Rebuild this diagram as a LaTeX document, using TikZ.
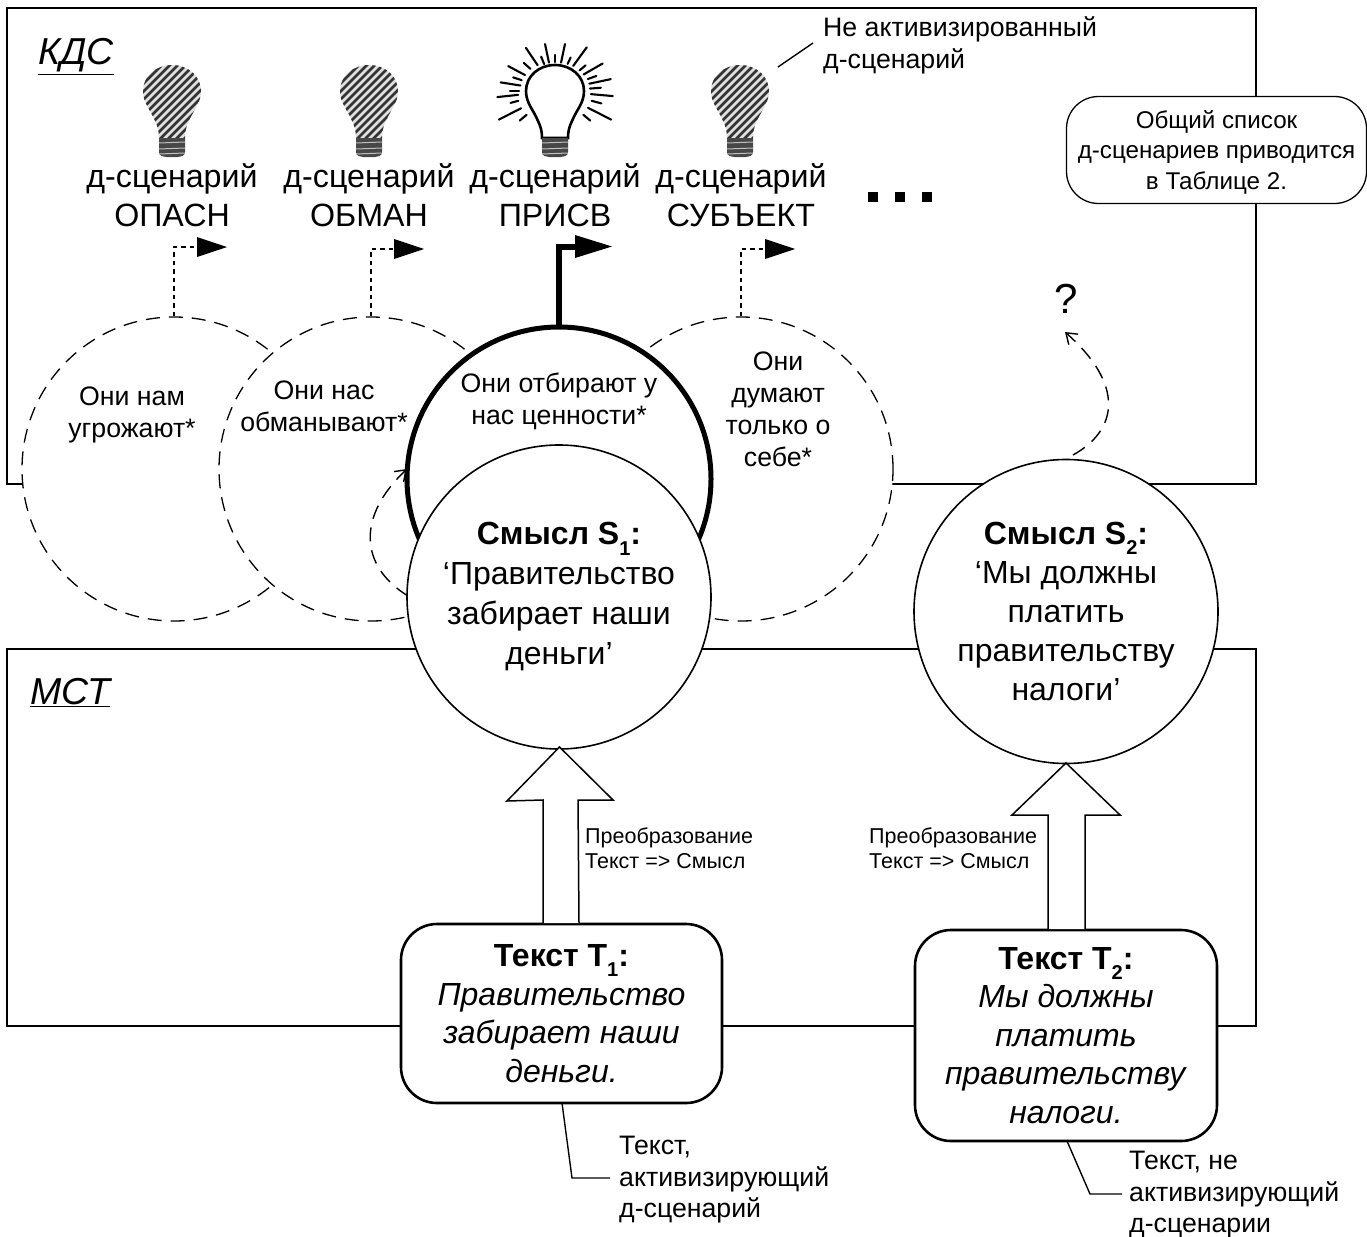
\documentclass[tikz,border=0pt]{standalone}
\usepackage{fontspec}
\setmainfont{Liberation Sans}
\usetikzlibrary{arrows.meta}
\newcommand{\lowsub}[1]{\raisebox{-0.32em}{\fontsize{20}{20}\selectfont #1}}
\tikzset{
  px/.style={x=1pt,y=-1pt},
  frameline/.style={draw=black,line width=1.5pt},
  dashcirc/.style={circle,draw=black,fill=white,line width=1.3pt,dash pattern=on 14pt off 9pt,minimum size=304pt,inner sep=0pt},
  thickcirc/.style={circle,draw=black,fill=white,line width=5pt,minimum size=304pt,inner sep=0pt},
  thincirc/.style={circle,draw=black,fill=white,line width=1.6pt,minimum size=304pt,inner sep=0pt,align=center,font=\fontsize{32}{39}\selectfont},
  textbox/.style={draw=black,fill=white,line width=2.6pt,rounded corners=36pt,inner sep=0pt,align=center,font=\fontsize{32}{38.5}\selectfont},
  note/.style={draw=black,fill=white,line width=1.3pt,rounded corners=32pt,inner sep=0pt},
  notetext/.style={inner sep=0pt,align=center,font=\fontsize{24.2}{30.5}\selectfont},
  lbl/.style={inner sep=0pt,align=center,font=\fontsize{32.2}{39}\selectfont},
  circlbl/.style={inner sep=0pt,align=center,font=\fontsize{26.7}{32}\selectfont},
  small/.style={inner sep=0pt,align=left,font=\fontsize{21.5}{25}\selectfont},
  side/.style={inner sep=0pt,align=left,font=\fontsize{26.7}{31.5}\selectfont},
  sysname/.style={inner sep=0pt,font=\fontsize{37.5}{40}\selectfont\itshape},
  dotarrow/.style={line width=2.9pt,dash pattern=on 4.5pt off 4pt},
  tri/.style={fill=black,draw=none},
  blockarrow/.style={draw=black,fill=white,line width=1.5pt,line join=miter},
  thinline/.style={draw=black,line width=1.4pt},
  dashedcurve/.style={draw=black,line width=1.4pt,dash pattern=on 14pt off 9pt},
  bulbhatch/.style={draw=black!80,line width=2.7pt},
  dotsq/.style={fill=black,draw=none,minimum size=10pt,inner sep=0pt},
  ray/.style={draw=black,line width=2.1pt,line cap=round}
}
\newcommand{\bulbpath}{(0,0) .. controls (16,0) and (29,11) .. (29,26)
  .. controls (29,38) and (22,44) .. (17,56) .. controls (14,62) and (13,67) .. (13,73)
  -- (-13,73) .. controls (-13,67) and (-14,62) .. (-17,56)
  .. controls (-22,44) and (-29,38) .. (-29,26) .. controls (-29,11) and (-16,0) .. (0,0) -- cycle}
\newcommand{\bulbbase}{
  \fill[black!72] (-13,73) -- (13,73) -- (13,87) .. controls (13,91) and (9,92) .. (6,92) -- (-6,92) .. controls (-9,92) and (-13,91) .. (-13,87) -- cycle;
  \foreach \yy in {78,84,89} \draw[white!75!black,line width=1pt] (-13,\yy) -- (13,\yy-1);
}
\newcommand{\darkbulb}[1]{
  \begin{scope}[shift={(#1,65)}]
    \begin{scope}
      \clip \bulbpath;
      \fill[black!12] (-35,-5) rectangle (35,80);
      \foreach \k in {-80,-72,...,80}
        \draw[bulbhatch] (\k-50,80) -- (\k+50,-20);
    \end{scope}
    \bulbbase
  \end{scope}
}
\begin{document}
\begin{tikzpicture}[px]
\useasboundingbox (0,0) rectangle (1367,1236);
% frames
\draw[frameline] (7,484) -- (7,8) -- (1256,8) -- (1256,484) -- cycle;
\draw[frameline] (7,649) -- (1256,649) -- (1256,1026) -- (7,1026) -- cycle;
\node[sysname,anchor=base west] (kds) at (38,65) {\underline{КДС}};
\node[sysname,anchor=base west] (mst) at (30,704) {\underline{МСТ}};
% bulbs
\darkbulb{172}
\darkbulb{369}
\darkbulb{740}
\begin{scope}[shift={(555,65)}]
  \draw[black,line width=2.6pt,fill=white] \bulbpath;
  \bulbbase
  \begin{scope}[shift={(0,26)}]
  \foreach \a/\ra/\rb in {27/37/63,40/37/46,15/38/48,5/36/58,-4/35/46,-12/35/57,-20/35/44,-30/33/55,-40/32/40,-54/31/54,-65/30/37,-78/29/48,-90/29/36,-102/29/48,-112/29/37,-124/31/52,-138/33/42,-152/34/53,-162/35/44,-171/35/55,-180/36/45,174/37/58,165/38/46,153/38/63,140/37/46}
    \draw[ray] (\a:\ra) -- (\a:\rb);
  \end{scope}
\end{scope}
% scenario labels
\node[lbl] (l1) at (172,195) {д-сценарий\\ОПАСН};
\node[lbl] (l2) at (369,195) {д-сценарий\\ОБМАН};
\node[lbl] (l3) at (555,195) {д-сценарий\\ПРИСВ};
\node[lbl] (l4) at (741,195) {д-сценарий\\СУБЪЕКТ};
\node[dotsq] (d1) at (873,197) {};
\node[dotsq] (d2) at (900,197) {};
\node[dotsq] (d3) at (927,197) {};
% top labels
\node[side,anchor=north west] (nact) at (823,16.5) {Не активизированный\\д-сценарий};
\coordinate (nactA) at (778,67);
\coordinate (nactB) at (813,43);
\draw[thinline] (nactA) -- (nactB);
\node[note,minimum width=300pt,minimum height=107pt] (noteb) at (1216.5,150) {};
\node[notetext] (notet) at (1216.5,152) {Общий список\\д-сценариев приводится\\в Таблице 2.};
% dashed circles
\node[dashcirc] (c1) at (174,469) {};
\node[dashcirc] (c2) at (371,469) {};
\node[dashcirc] (c4) at (741,469) {};
\node[circlbl] (t1) at (132,415) {Они нам\\угрожают*};
\node[circlbl] (t2) at (324,406) {Они нас\\обманывают*};
\node[circlbl] (t4) at (778,409) {Они\\думают\\только о\\себе*};
% arrows
\coordinate (a1) at (197,247);
\coordinate (a2) at (394,249);
\coordinate (a3) at (575,247);
\coordinate (a4) at (765,249);
\draw[dotarrow] (c1.north) |- (a1);
\draw[dotarrow] (c2.north) |- (a2);
\draw[dotarrow] (c4.north) |- (a4);
\fill[tri] (197,237) -- (227,247) -- (197,257) -- cycle;
\fill[tri] (394,239) -- (424,249) -- (394,259) -- cycle;
\fill[tri] (765,239) -- (795,249) -- (765,259) -- cycle;
% thick circle
\node[thickcirc] (c3) at (559,479) {};
\draw[line width=6pt] (c3.north) |- (a3);
\fill[tri] (575,235) -- (612,246.5) -- (575,258) -- cycle;
\node[circlbl] (t3) at (559,401) {Они отбирают у\\нас ценности*};
% curved back arrow
\coordinate (ba) at (408,596);
\coordinate (bb) at (407,469);
\draw[dashedcurve,-{Straight Barb[length=10pt,width=14pt]}] (ba) .. controls (358,565) and (358,515) .. (bb);
% S circles
\node[thincirc,font=\fontsize{32}{40}\selectfont] (s1) at (559,597) {\textbf{Смысл S\lowsub{1}:}\\‘Правительство\\забирает наши\\деньги’};
\node[thincirc] (s2) at (1066,611.5) {\textbf{Смысл S\lowsub{2}:}\\‘Мы должны\\платить\\правительству\\налоги’};
% question
\node[inner sep=0pt,font=\fontsize{42}{44}\selectfont] (q) at (1066,299) {?};
\coordinate (qs) at (1073,455);
\coordinate (qe) at (1065,332);
\draw[dashedcurve,-{Straight Barb[length=10pt,width=14pt]}] (qs) .. controls (1118,430) and (1125,385) .. (qe);
% text boxes
\node[textbox,minimum width=321pt,minimum height=179pt] (b1) at (561.5,1013.5) {\textbf{Текст T\lowsub{1}:}\\\textit{Правительство}\\\textit{забирает наши}\\\textit{деньги.}};
\node[textbox,minimum width=302pt,minimum height=211pt] (b2) at (1066,1035.5) {\textbf{Текст T\lowsub{2}:}\\\textit{Мы должны}\\\textit{платить}\\\textit{правительству}\\\textit{налоги.}};
% block arrows
\draw[blockarrow] (543,923) -- (543,800) -- (507,801) -- (559.5,747) -- (613,800) -- (578,800) -- (579,923);
\draw[blockarrow] (1048,929) -- (1048,815) -- (1012,815) -- (1066,763) -- (1120,815) -- (1085,815) -- (1085,929);
\node[small,anchor=north west] (p1) at (585,828) {Преобразование\\Текст => Смысл};
\node[small,anchor=north west] (p2) at (869,828) {Преобразование\\Текст => Смысл};
% callouts
\node[side,anchor=north west] (c1t) at (619,1136) {Текст,\\активизирующий\\д-сценарий};
\node[side,anchor=north west] (c2t) at (1129,1151) {Текст, не\\активизирующий\\д-сценарии};
\coordinate (k1) at (572,1178);
\coordinate (k2) at (1090,1194);
\draw[thinline] (562,1103) -- (k1) -- (610,1178);
\draw[thinline] (1067,1141) -- (k2) -- (1122,1194);
\end{tikzpicture}
\end{document}
